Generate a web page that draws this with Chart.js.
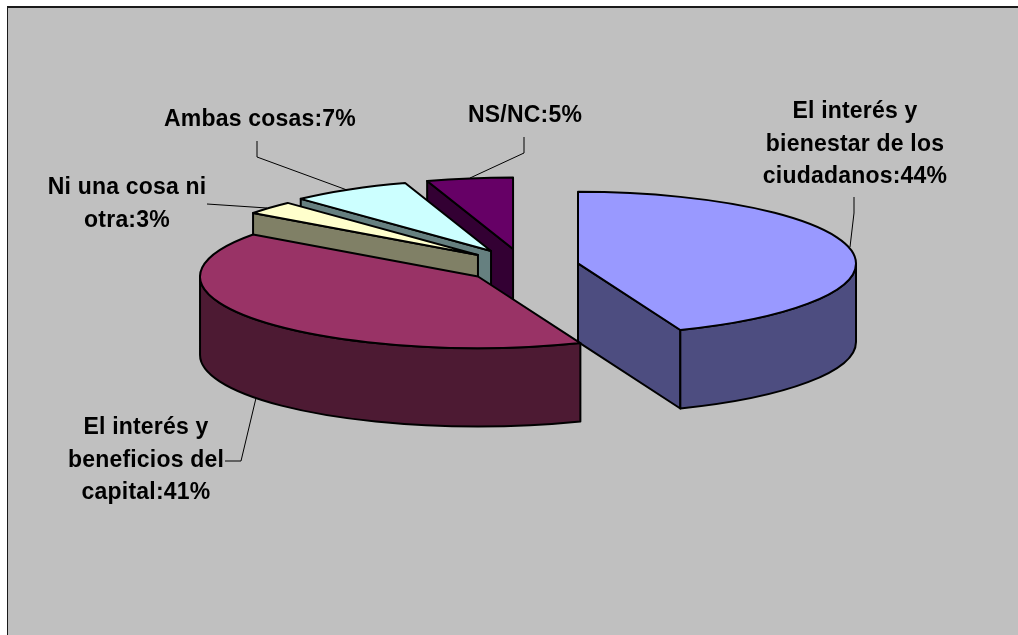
<!DOCTYPE html>
<html lang="es">
<head>
<meta charset="utf-8">
<title>Gráfico</title>
<script src="https://cdn.jsdelivr.net/npm/chart.js@4/dist/chart.umd.min.js"></script>
<style>
    html, body { margin: 0; padding: 0; background: #fff; overflow: hidden; }
    canvas { display: block; }
</style>
</head>
<body>
<canvas id="pieChart" width="1018" height="635"></canvas>
<script>
const categories = [
    ['El interés y', 'bienestar de los', 'ciudadanos'],
    ['El interés y', 'beneficios del', 'capital'],
    ['Ni una cosa ni', 'otra'],
    ['Ambas cosas'],
    ['NS/NC']
];
const percentages = [44, 41, 3, 7, 5];
const topColors = ['#9999ff', '#993366', '#ffffcc', '#ccffff', '#660066'];
const sideColors = ['#4d4d80', '#4d1a33', '#808066', '#668080', '#330033'];

// back to front, the red slice sits in front of the blue wall
const drawOrder = [4, 3, 2, 0, 1];
const explodeBySlice = [56.4, 56.4, 59.5, 62, 61];

const pie = { x: 522.6, y: 266.5, radius: 278, squash: 0.2575, depth: 78.5, explodeTilt: 0.29 };

// text centre of first line, and the leader line for each slice
const labelLayout = [
    { x: 855, y: 112, leader: [[854, 197], [854, 213], [850, 247]] },
    { x: 146, y: 428, leader: [[225, 461], [241, 461], [256, 398]] },
    { x: 127, y: 188, leader: [[207, 204], [267, 208]] },
    { x: 260, y: 120, leader: [[257, 141], [257, 157], [347, 190]] },
    { x: 525, y: 116, leader: [[524, 137], [524, 153], [470, 178]] }
];

function sliceCenter(arc, i) {
    const mid = (arc.startAngle + arc.endAngle) / 2;
    return {
        x: pie.x + Math.cos(mid) * explodeBySlice[i],
        y: pie.y + Math.sin(mid) * explodeBySlice[i] * pie.explodeTilt
    };
}

function rimPoint(c, angle) {
    return {
        x: c.x + Math.cos(angle) * pie.radius,
        y: c.y + Math.sin(angle) * pie.radius * pie.squash
    };
}

function fillAndStroke(ctx, color) {
    ctx.fillStyle = color;
    ctx.fill();
    ctx.stroke();
}

function drawFace(ctx, c, angle, color) {
    const p = rimPoint(c, angle);
    ctx.beginPath();
    ctx.moveTo(c.x, c.y);
    ctx.lineTo(p.x, p.y);
    ctx.lineTo(p.x, p.y + pie.depth);
    ctx.lineTo(c.x, c.y + pie.depth);
    ctx.closePath();
    fillAndStroke(ctx, color);
}

function drawWalls(ctx, arc, c, color) {
    // cut faces, only the ones turned to the viewer
    if (Math.cos(arc.startAngle) < -0.001) drawFace(ctx, c, arc.startAngle, color);
    if (Math.cos(arc.endAngle) > 0.001) drawFace(ctx, c, arc.endAngle, color);

    // outer wall, front half of the ellipse
    const from = Math.max(arc.startAngle, 0);
    const to = Math.min(arc.endAngle, Math.PI);
    if (to > from) {
        const ry = pie.radius * pie.squash;
        ctx.beginPath();
        ctx.ellipse(c.x, c.y, pie.radius, ry, 0, from, to);
        ctx.ellipse(c.x, c.y + pie.depth, pie.radius, ry, 0, to, from, true);
        ctx.closePath();
        fillAndStroke(ctx, color);
    }
}

const pie3d = {
    id: 'pie3d',
    beforeDraw(chart) {
        const ctx = chart.ctx;
        ctx.save();
        ctx.fillStyle = '#c0c0c0';
        ctx.fillRect(7, 7, chart.width, chart.height);
        ctx.fillStyle = '#1a1a1a';
        ctx.fillRect(7, 6, chart.width, 2);
        ctx.fillRect(7, 6, 1, chart.height);
        ctx.restore();
    },
    beforeDatasetDraw(chart) {
        const ctx = chart.ctx;
        const arcs = chart.getDatasetMeta(0).data;

        ctx.save();
        ctx.strokeStyle = '#000';
        ctx.lineWidth = 2;
        ctx.lineJoin = 'round';
        drawOrder.forEach(i => {
            const arc = arcs[i];
            const c = sliceCenter(arc, i);
            drawWalls(ctx, arc, c, sideColors[i]);

            // the slice itself comes from Chart.js, flattened onto the ellipse
            ctx.save();
            ctx.translate(c.x, c.y);
            ctx.scale(1, pie.squash);
            ctx.translate(-arc.x, -arc.y);
            arc.draw(ctx);
            ctx.restore();

            ctx.beginPath();
            ctx.moveTo(c.x, c.y);
            ctx.ellipse(c.x, c.y, pie.radius, pie.radius * pie.squash, 0, arc.startAngle, arc.endAngle);
            ctx.closePath();
            ctx.stroke();
        });
        ctx.restore();
        return false;
    },
    afterDraw(chart) {
        const ctx = chart.ctx;
        ctx.save();
        ctx.strokeStyle = '#000';
        ctx.lineWidth = 1;
        labelLayout.forEach(l => {
            ctx.beginPath();
            l.leader.forEach((p, j) => {
                if (j === 0) ctx.moveTo(p[0], p[1]);
                else ctx.lineTo(p[0], p[1]);
            });
            ctx.stroke();
        });

        ctx.fillStyle = '#000';
        ctx.font = 'bold 23px "Liberation Sans", Arial, sans-serif';
        ctx.letterSpacing = '0.2px';
        ctx.textAlign = 'center';
        ctx.textBaseline = 'middle';
        labelLayout.forEach((l, i) => {
            const lines = categories[i].slice();
            lines[lines.length - 1] += ':' + percentages[i] + '%';
            lines.forEach((line, j) => ctx.fillText(line, l.x, l.y + j * 32.3));
        });
        ctx.restore();
    }
};

new Chart(document.getElementById('pieChart'), {
    type: 'pie',
    data: {
        labels: categories,
        datasets: [{
            data: percentages,
            backgroundColor: topColors,
            borderWidth: 0
        }]
    },
    options: {
        responsive: false,
        animation: false,
        events: [],
        radius: pie.radius,
        plugins: {
            legend: { display: false },
            tooltip: { enabled: false }
        }
    },
    plugins: [pie3d]
});
</script>
</body>
</html>
